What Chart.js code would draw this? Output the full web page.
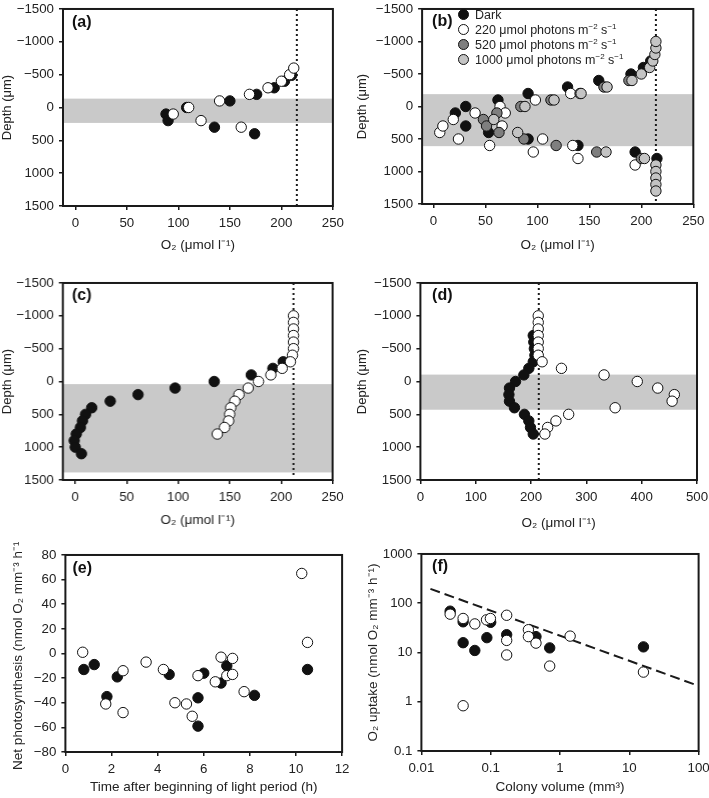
<!DOCTYPE html>
<html><head><meta charset="utf-8">
<script src="https://cdn.jsdelivr.net/npm/chart.js@4"></script>
<style>
body{margin:0;background:#fff;width:709px;height:798px;position:relative;overflow:hidden;font-family:"Liberation Sans",Arial,sans-serif;}
.pn{position:absolute;}
.lg{position:absolute;left:458px;top:8px;font-size:12.5px;color:#222;}
.lg div{white-space:nowrap;height:15px;line-height:15px;}
.dot{display:inline-block;width:9px;height:9px;border:1px solid #111;border-radius:50%;vertical-align:-1px;margin-right:6px;}
sup{font-size:8px;vertical-align:5px;line-height:0;}
</style></head><body>
<div class="pn" id="pa"><canvas id="ca"></canvas></div>
<div class="pn" id="pb"><canvas id="cb"></canvas></div>
<div class="pn" id="pc"><canvas id="cc"></canvas></div>
<div class="pn" id="pd"><canvas id="cd"></canvas></div>
<div class="pn" id="pe"><canvas id="ce"></canvas></div>
<div class="pn" id="pf"><canvas id="cf"></canvas></div>
<div class="lg">
<div><span class="dot" style="background:#111"></span>Dark</div>
<div><span class="dot" style="background:#fff"></span>220 μmol photons m<sup>−2</sup> s<sup>−1</sup></div>
<div><span class="dot" style="background:#7f7f7f"></span>520 μmol photons m<sup>−2</sup> s<sup>−1</sup></div>
<div><span class="dot" style="background:#c4c4c4"></span>1000 μmol photons m<sup>−2</sup> s<sup>−1</sup></div>
</div>
<script>
// ---------- data ----------
const depthTicks = [-1500, -1000, -500, 0, 500, 1000, 1500];
const o2Ticks250 = [0, 50, 100, 150, 200, 250];
const o2Ticks500 = [0, 100, 200, 300, 400, 500];
const timeTicks = [0, 2, 4, 6, 8, 10, 12];
const netTicks = [-80, -60, -40, -20, 0, 20, 40, 60, 80];
const volTicks = [0.01, 0.1, 1, 10, 100];
const uptakeTicks = [0.1, 1, 10, 100, 1000];

// (a)
const aDarkX = [88, 90, 108, 135, 150, 174, 176, 193, 203, 210];
const aDarkY = [100, 200, 0, 300, -100, 400, -200, -300, -400, -490];
const aOpenX = [95, 110, 122, 140, 161, 169, 187, 200, 208, 212];
const aOpenY = [100, 0, 200, -100, 300, -200, -300, -400, -500, -600];
const aBand = [-135, 235];
const aRef = 215;

// (b)
const bDarkX = [21, 31, 31, 53, 62, 91, 91, 129, 139, 159, 190, 194, 202, 209, 215];
const bDarkY = [100, 0, 300, 400, -100, -200, 500, -300, 600, -400, -500, 700, -600, -700, 800];
const bOpenX = [6, 9, 19, 24, 40, 54, 64, 69, 66, 98, 96, 105, 132, 134, 139, 194];
const bOpenY = [400, 300, 200, 500, 100, 600, 0, 100, 300, -100, 700, 500, -200, 600, 800, 900];
const b520X = [48, 51, 61, 63, 84, 87, 113, 118, 141, 157, 164, 188, 200];
const b520Y = [200, 300, 100, 400, 0, 500, -100, 600, -200, 700, -300, -400, 800];
const b1000X = [58, 81, 88, 116, 142, 166, 167, 191, 200, 208, 211, 213, 214, 214, 203, 214, 214, 214, 214, 214];
const b1000Y = [200, 400, 0, -100, -200, 700, -300, -400, -500, -600, -700, -800, -900, -1000, 800, 900, 1000, 1100, 1200, 1300];
const bBand = [-190, 610];
const bRef = 214;

// (c)
const cDarkX = [202, 192, 171, 135, 97, 61, 34, 16, 10, 7, 5, 1, -1, 0, 6];
const cDarkY = [-300, -200, -100, 0, 100, 200, 300, 400, 500, 600, 700, 800, 900, 1000, 1100];
const cOpenX = [212, 212, 212, 212, 212, 212, 211, 209, 201, 190, 178, 168, 159, 155, 151, 150, 149, 145, 138];
const cOpenY = [-1000, -900, -800, -700, -600, -500, -400, -300, -200, -100, 0, 100, 200, 300, 400, 500, 600, 700, 800];
const cBand = [40, 1385];
const cRef = 212;

// (d)
const dDarkX = [204, 205, 206, 207, 204, 196, 187, 172, 161, 160, 161, 170, 188, 196, 199, 204];
const dDarkY = [-700, -600, -500, -400, -300, -200, -100, 0, 100, 200, 300, 400, 500, 600, 700, 800];
const dOpenX = [213, 213, 213, 213, 213, 213, 213, 220, 255, 332, 392, 429, 459, 455, 352, 268, 245, 230, 225];
const dOpenY = [-1000, -900, -800, -700, -600, -500, -400, -300, -200, -100, 0, 100, 200, 300, 400, 500, 600, 700, 800];
const dBand = [-105, 430];
const dRef = 214;

// (e)
const eOpenX = [0.75, 1.75, 2.5, 2.5, 3.5, 4.25, 4.75, 5.25, 5.5, 5.75, 6.5, 6.75, 7.0, 7.25, 7.25, 7.75, 10.25, 10.5];
const eOpenY = [1, -41, -14, -48, -7, -13, -40, -41, -51, -18, -23, -3, -18, -4, -17, -31, 65, 9];
const eDarkX = [0.8, 1.25, 1.8, 2.25, 4.5, 5.75, 5.75, 6.0, 6.75, 7.0, 8.2, 10.5];
const eDarkY = [-13, -9, -35, -19, -17, -36, -59, -16, -24, -10, -34, -13];

// (f)
const fOpenX = [0.026, 0.04, 0.04, 0.059, 0.087, 0.099, 0.17, 0.17, 0.17, 0.35, 0.35, 0.45, 0.71, 1.4, 16];
const fOpenY = [60, 49, 0.83, 38, 46, 49, 57, 17.6, 8.9, 29, 21, 15.5, 5.3, 21.5, 4.0];
const fDarkX = [0.026, 0.04, 0.04, 0.059, 0.088, 0.10, 0.17, 0.45, 0.71, 16];
const fDarkY = [69, 42, 15.8, 11, 20, 41, 23, 21, 12.4, 13];
const fFitX = [0.0135, 100];
const fFitY = [196, 2.1];

// ---------- helpers ----------
Chart.defaults.font.family = '"Liberation Sans", Arial, sans-serif';
Chart.defaults.font.size = 13;
Chart.defaults.color = '#222';
Chart.defaults.animation = false;

const pts = (xs, ys) => xs.map((x, i) => ({x: x, y: ys[i]}));
const fmt = v => (v < 0 ? '\u2212' + Math.abs(v) : String(v));
const INK = '#1a1a1a';

function axis(pos, o) {
  return {
    type: o.type || 'linear', position: pos, min: o.min, max: o.max, reverse: !!o.reverse,
    afterBuildTicks: s => { s.ticks = o.ticks.map(v => ({value: v})); },
    afterFit: s => { if (pos === 'left') s.width = o.size; else s.height = o.size; },
    ticks: {autoSkip: false, maxRotation: 0, padding: 5, color: '#222', font: {size: 13.3},
            callback: v => fmt(v)},
    grid: {drawOnChartArea: false, drawTicks: true, tickLength: 4, color: INK, lineWidth: 1.5},
    border: {display: false},
    title: {display: true, text: o.title, color: '#222', font: {size: o.tsize || 13.5}, padding: 0}
  };
}

function series(data, bg, order) {
  return {data: data, backgroundColor: bg, borderColor: '#111', borderWidth: 1,
          pointRadius: 5.2, pointHoverRadius: 5.2, order: order};
}
function refLine(x, y0, y1) {
  return {data: pts([x, x], [y0, y1]), showLine: true, borderColor: INK, borderWidth: 2,
          borderDash: [2, 3], pointRadius: 0, order: 20};
}

function panel(id, box, yW, xH, label, labelDX, labelDY, band, xo, yo, datasets) {
  const el = document.getElementById('p' + id);
  const padT = 10, padR = 16;
  const left = box[0] - yW, top = box[1] - padT;
  el.style.left = left + 'px';
  el.style.top = top + 'px';
  el.style.width = (box[2] - box[0] + yW + padR) + 'px';
  el.style.height = (box[3] - box[1] + padT + xH) + 'px';
  xo.size = xH; yo.size = yW;
  new Chart(document.getElementById('c' + id), {
    type: 'scatter',
    data: {datasets: datasets},
    options: {
      responsive: true, maintainAspectRatio: false, events: [],
      layout: {padding: {left: 0, top: padT, right: padR, bottom: 0}},
      plugins: {legend: {display: false}, tooltip: {enabled: false}},
      scales: {x: axis('bottom', xo), y: axis('left', yo)}
    },
    plugins: [{
      id: 'deco' + id,
      beforeDatasetsDraw(chart) {
        if (!band) return;
        const ca = chart.chartArea, ys = chart.scales.y, ctx = chart.ctx;
        const p1 = ys.getPixelForValue(band[0]), p2 = ys.getPixelForValue(band[1]);
        ctx.save();
        ctx.fillStyle = '#c9c9c9';
        ctx.fillRect(ca.left, Math.min(p1, p2), ca.right - ca.left, Math.abs(p2 - p1));
        ctx.restore();
      },
      afterDraw(chart) {
        const ca = chart.chartArea, ctx = chart.ctx;
        ctx.save();
        ctx.strokeStyle = INK; ctx.lineWidth = 2;
        ctx.strokeRect(ca.left, ca.top, ca.right - ca.left, ca.bottom - ca.top);
        ctx.fillStyle = '#111';
        ctx.font = 'bold 16px "Liberation Sans", Arial, sans-serif';
        ctx.textBaseline = 'middle';
        ctx.fillText(label, ca.left + labelDX, ca.top + labelDY);
        ctx.restore();
      }
    }]
  });
}

const DEPTH = 'Depth (μm)';
const O2 = 'O₂ (μmol l⁻¹)';

panel('a', [63, 6, 333, 206], 63, 47.4, '(a)', 9, 14, aBand,
  {min: -12, max: 250, ticks: o2Ticks250, title: O2},
  {min: -1500, max: 1500, reverse: true, ticks: depthTicks, title: DEPTH, tsize: 13},
  [refLine(aRef, -1500, 1500),
   series(pts(aDarkX, aDarkY), '#111', 3),
   series(pts(aOpenX, aOpenY), '#fff', 2)]);

panel('b', [421.7, 6, 693, 204], 67.1, 49.4, '(b)', 10, 13, bBand,
  {min: -11, max: 250, ticks: o2Ticks250, title: O2},
  {min: -1500, max: 1500, reverse: true, ticks: depthTicks, title: DEPTH, tsize: 13},
  [refLine(bRef, -1500, 1500),
   series(pts(bDarkX, bDarkY), '#111', 4),
   series(pts(bOpenX, bOpenY), '#fff', 3),
   series(pts(b520X, b520Y), '#7f7f7f', 2),
   series(pts(b1000X, b1000Y), '#c4c4c4', 1)]);

panel('c', [62.7, 280, 331.7, 480], 62.7, 48.4, '(c)', 9, 13, cBand,
  {min: -12, max: 250, ticks: o2Ticks250, title: O2},
  {min: -1500, max: 1500, reverse: true, ticks: depthTicks, title: DEPTH, tsize: 13},
  [refLine(cRef, -1500, 1440),
   series(pts(cDarkX, cDarkY), '#111', 3),
   series(pts(cOpenX, cOpenY), '#fff', 2)]);

panel('d', [420, 280, 696.7, 480], 65.4, 51.4, '(d)', 11.7, 13, dBand,
  {min: 0, max: 500, ticks: o2Ticks500, title: O2},
  {min: -1500, max: 1500, reverse: true, ticks: depthTicks, title: DEPTH, tsize: 13},
  [refLine(dRef, -1500, 1500),
   series(pts(dDarkX, dDarkY), '#111', 3),
   series(pts(dOpenX, dOpenY), '#fff', 2)]);

panel('e', [65, 551.7, 341.7, 751.7], 55.4, 43.4, '(e)', 7, 14, null,
  {min: 0, max: 12, ticks: timeTicks, title: 'Time after beginning of light period (h)'},
  {min: -80, max: 80, ticks: netTicks, title: 'Net photosynthesis (nmol O₂ mm⁻³ h⁻¹)', tsize: 13.5},
  [series(pts(eDarkX, eDarkY), '#111', 3),
   series(pts(eOpenX, eOpenY), '#fff', 2)]);

panel('f', [421, 550.7, 698.3, 750.7], 56.4, 44.4, '(f)', 10.7, 12.5, null,
  {type: 'logarithmic', min: 0.01, max: 100, ticks: volTicks, title: 'Colony volume (mm³)'},
  {type: 'logarithmic', min: 0.1, max: 1000, ticks: uptakeTicks, title: 'O₂ uptake (nmol O₂ mm⁻³ h⁻¹)', tsize: 13.5},
  [{data: pts(fFitX, fFitY), showLine: true, borderColor: INK, borderWidth: 2,
    borderDash: [10, 5], pointRadius: 0, order: 20},
   series(pts(fDarkX, fDarkY), '#111', 3),
   series(pts(fOpenX, fOpenY), '#fff', 2)]);
</script>
</body></html>
